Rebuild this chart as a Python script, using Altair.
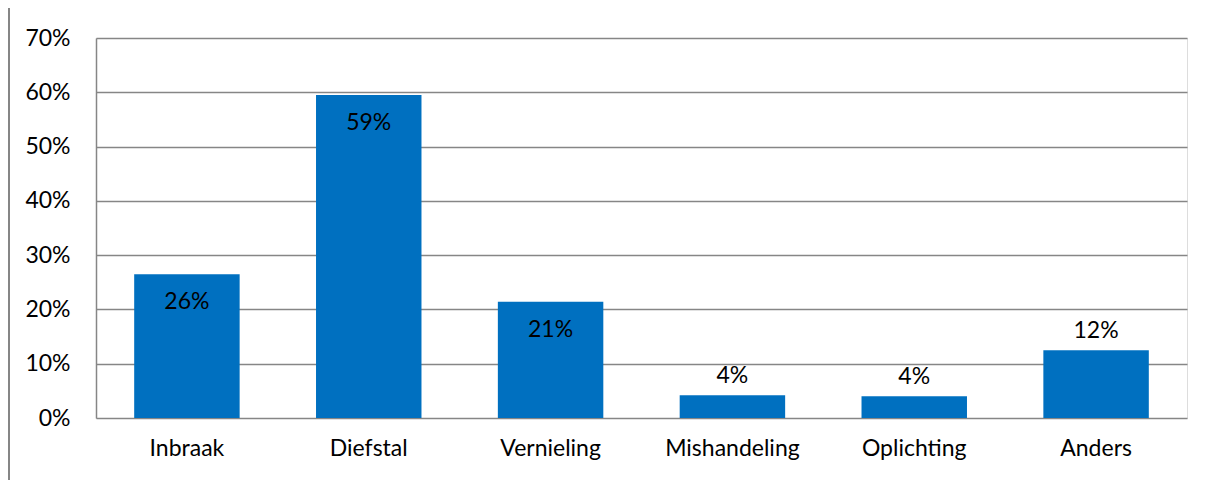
import altair as alt
import pandas as pd

categories = ["Inbraak", "Diefstal", "Vernieling", "Mishandeling", "Oplichting", "Anders"]
values = [0.265, 0.595, 0.214, 0.042, 0.040, 0.125]
labels = ["26%", "59%", "21%", "4%", "4%", "12%"]

df = pd.DataFrame({"cat": categories, "val": values, "lab": labels})

FONT = "Lato"
FS = 23

x = alt.X("cat:N", sort=categories, title=None,
          scale=alt.Scale(paddingInner=0.42, paddingOuter=0.21),
          axis=alt.Axis(labelAngle=0, labelFontSize=FS, labelColor="#000000", labelFont=FONT,
                        labelPadding=19, ticks=False, domain=False))
y = alt.Y("val:Q", title=None,
          scale=alt.Scale(domain=[0, 0.7], nice=False),
          axis=alt.Axis(format=".0%", values=[0, 0.1, 0.2, 0.3, 0.4, 0.5, 0.6, 0.7],
                        labelFontSize=FS, labelColor="#000000", labelFont=FONT,
                        labelPadding=26, ticks=False, domain=True, domainColor="#868686",
                        domainWidth=1.5, grid=True, gridColor="#868686", gridWidth=1.5))

base = alt.Chart(df)
bars = base.mark_bar(color="#0070C0").encode(x=x, y=y)

inside = base.transform_filter("datum.val > 0.15").mark_text(
    baseline="top", dy=17, fontSize=FS, font=FONT, color="#000000"
).encode(x=alt.X("cat:N", sort=categories), y="val:Q", text="lab:N")

outside = base.transform_filter("datum.val <= 0.15").mark_text(
    baseline="bottom", dy=-7, fontSize=FS, font=FONT, color="#000000"
).encode(x=alt.X("cat:N", sort=categories), y="val:Q", text="lab:N")

border = alt.Chart(df).mark_rule(color="#868686", strokeWidth=2, clip=False).encode(
    x=alt.value(-87), y=alt.value(-40), y2=alt.value(460))

chart = alt.layer(bars, inside, outside, border).properties(
    width=1091, height=380,
    autosize=alt.AutoSizeParams(type="none"),
    padding={"left": 88, "top": 30, "right": 17, "bottom": 64},
).configure_view(stroke=None).configure(background="white")

chart.save("out.html", embed_options={"renderer": "svg", "actions": False})
